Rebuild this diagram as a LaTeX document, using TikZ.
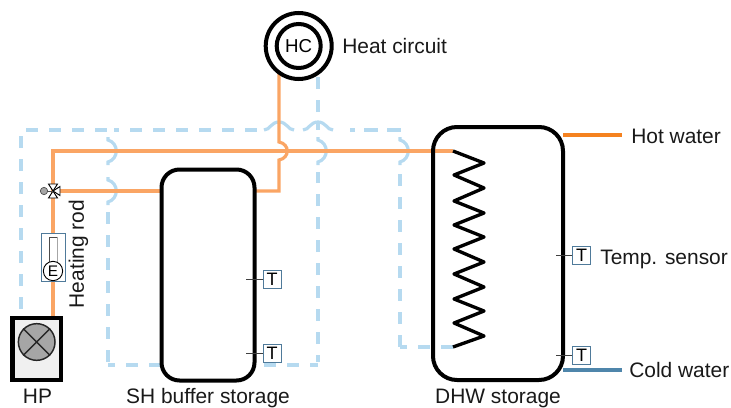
\documentclass[tikz,border=0pt]{standalone}
\usepackage{fontspec}
\setmainfont{Liberation Sans}
\usetikzlibrary{calc}
\definecolor{pipeorange}{HTML}{FAA564}
\definecolor{hotorange}{HTML}{F58220}
\definecolor{coldblue}{HTML}{4F86AB}
\definecolor{dashblue}{HTML}{B6DAF0}
\definecolor{sensoredge}{HTML}{4F7A9A}
\definecolor{hpfill}{HTML}{F0F0F0}
\definecolor{fanfill}{HTML}{A6A6A6}
\tikzset{
  warm/.style={draw=pipeorange,line width=2.4pt,line join=miter},
  ctrlsolid/.style={draw=dashblue,line width=2.4pt},
  ctrl/.style={ctrlsolid,dash pattern=on 9pt off 8.25pt},
  ctrlshift/.style={ctrlsolid,dash pattern=on 9pt off 8.25pt,dash phase=3.75pt},
  tank/.style={draw=black,line width=3pt,rounded corners=#1,inner sep=0pt},
  sensorbox/.style={draw=sensoredge,line width=0.7pt,fill=white,minimum size=13.5pt,inner sep=0pt,font=\fontsize{13.5pt}{14pt}\selectfont},
  tick/.style={draw=black!75,line width=0.7pt},
  lbl/.style={font=\fontsize{15.7pt}{17pt}\selectfont,inner sep=0pt,text=black!90},
  valvetri/.style={draw=black,fill=white,line width=0.7pt,line join=miter}
}
% solid hop of a vertical line, bulging right, centred on a named crossing
\newcommand{\vhop}[1]{\draw[ctrlsolid] ($(#1)+(0,-14)$) -- ($(#1)+(0,-11)$) .. controls +(11,3) and +(11,-3) .. ($(#1)+(0,11)$) -- ($(#1)+(0,14)$);}
% solid hop of a horizontal line, rising, centred on a named crossing
\newcommand{\hhop}[1]{\draw[ctrlsolid] ($(#1)+(-15,0)$) .. controls +(6,0) and +(-8,0) .. ($(#1)+(0,-8)$) .. controls +(8,0) and +(-6,0) .. ($(#1)+(15,0)$);}
\begin{document}
\begin{tikzpicture}[x=0.75pt,y=-0.75pt]
\useasboundingbox (0,0) rectangle (731,407);
% crossings and corners
\coordinate (valve) at (53,191);
\coordinate (rodtop) at (53,151);
\coordinate (coilin) at (453,151);
\coordinate (coilout) at (453,347);
\coordinate (j108a) at (108,151);
\coordinate (j108b) at (108,191);
\coordinate (j318) at (318,151);
\coordinate (j400) at (400,151);
\coordinate (j279) at (279,151);
\coordinate (t279) at (279,130);
\coordinate (t318) at (318,130);
\coordinate (hptopc) at (53,318);
\coordinate (shout) at (254,191);
\coordinate (hcfoot) at (279,72);
\coordinate (hotA) at (563,135);
\coordinate (hotB) at (622,135);
\coordinate (coldA) at (563,370);
\coordinate (coldB) at (622,370);
% outer control line
\coordinate (a1) at (21,309);
\coordinate (a2) at (21,130);
\coordinate (a3) at (107,130);
\coordinate (a4) at (114,130);
\coordinate (a5) at (119,130);
\coordinate (a6) at (130,130);
\coordinate (a7) at (258,130);
\coordinate (a8) at (350,130);
\coordinate (a9) at (355,130);
\coordinate (a10) at (364,130);
\coordinate (a11) at (378,130);
\coordinate (a12) at (387,130);
\coordinate (a13) at (401,130);
\coordinate (a14) at (400,174);
\coordinate (a15) at (400,347);
\draw[ctrl] (a1) -- (a2) -- (a3);
\draw[ctrlsolid] (a4) -- (a5);
\draw[ctrl] (a6) -- (a7);
\hhop{t279}
\hhop{t318}
\draw[ctrlsolid] (a8) -- (a9) (a10) -- (a11) (a12) -- (a13);
\vhop{j400}
\draw[ctrl] (a14) -- (a15);
\draw[ctrlshift] (a15) -- (coilout);
% inner control line
\coordinate (b1) at (108,212);
\coordinate (b2) at (108,362);
\coordinate (b3) at (108,365);
\coordinate (b4) at (318,365);
\coordinate (b5) at (318,362);
\coordinate (b6) at (318,172);
\coordinate (b7) at (318,122);
\coordinate (b8) at (318,130);
\coordinate (b9) at (318,112);
\coordinate (b10) at (318,77);
\vhop{j108a}
\vhop{j108b}
\draw[ctrl] (b1) -- (b2);
\draw[ctrlshift] (b3) -- (b4);
\draw[ctrlshift] (b5) -- (b6);
\vhop{j318}
\draw[ctrlsolid] (b7) -- (b8);
\draw[ctrl] (b9) -- (b10);
% warm pipes
\draw[warm] (hptopc) -- (rodtop) -- (coilin);
\draw[warm] (valve) -- (208,191);
\draw[warm] (shout) -| ($(j279)+(0,9)$) .. controls +(11,-2) and +(11,2) .. ($(j279)+(0,-9)$) -- (hcfoot);
\draw[draw=hotorange,line width=2.4pt] (hotA) -- (hotB);
\draw[draw=coldblue,line width=2.4pt] (coldA) -- (coldB);
% storage tanks
\node[tank=13.5pt,fill=white,minimum width=69.75pt,minimum height=158.25pt] (shtank) at (208,275) {};
\node[tank=18pt,minimum width=97.5pt,minimum height=189.75pt] (dhwtank) at (498,253.5) {};
% coil
\draw[black,line width=2.5pt,line join=round] (coilin) -- (484,163) -- (454,175) -- (484,188) -- (454,201) -- (484,213) -- (454,225) -- (484,237) -- (454,249) -- (484,262) -- (454,274) -- (484,287) -- (454,299) -- (484,311) -- (454,323) -- (484,336) -- (coilout);
% heat pump
\node[draw=black,line width=3.6pt,fill=hpfill,minimum width=36.4pt,minimum height=46.5pt,inner sep=0pt] (hp) at (36.7,349) {};
\node[circle,draw=black!85,line width=1.1pt,fill=fanfill,minimum size=27.5pt,inner sep=0pt] (fan) at (36.7,342) {};
\draw[black!85,line width=1.1pt] (fan.north west) -- (fan.south east) (fan.north east) -- (fan.south west);
\node[lbl,anchor=base] (hplabel) at (37.5,403) {HP};
% heating circuit
\node[circle,draw=black,line width=3pt,fill=white,minimum size=49.5pt,inner sep=0pt] (hcouter) at (298.7,46) {};
\node[circle,draw=black,line width=3pt,minimum size=33pt,inner sep=0pt,font=\fontsize{14pt}{15pt}\selectfont] (hc) at (298.7,46) {HC};
\node[lbl,anchor=base west] (hclabel) at (342,53) {Heat circuit};
% heating rod
\node[draw=sensoredge,line width=0.7pt,fill=white,minimum width=18pt,minimum height=36pt,inner sep=0pt] (rodbox) at (53,257) {};
\node[draw=black!70,line width=0.7pt,minimum width=6pt,minimum height=19pt,inner sep=0pt] (rod) at (53,250) {};
\draw[fanfill,line width=1pt] (rod.north east) -- (rod.south east);
\node[circle,draw=black,line width=0.7pt,fill=white,minimum size=14.5pt,inner sep=0pt,font=\fontsize{11.5pt}{12pt}\selectfont] (rode) at (53,271) {E};
\node[lbl,rotate=90,anchor=center] (rodlabel) at (78.5,254) {Heating rod};
% mixing valve
\draw[valvetri] (valve) -- ++(-4.5,-7) -- ++(9,0) -- cycle;
\draw[valvetri] (valve) -- ++(-4.5,7) -- ++(9,0) -- cycle;
\draw[valvetri] (valve) -- ++(7,-4.5) -- ++(0,9) -- cycle;
\draw[black!70,line width=0.5pt] (valve) -- ++(-9,0);
\node[circle,draw=black!70,line width=0.5pt,fill=fanfill,minimum size=5.5pt,inner sep=0pt] (actuator) at (44,191) {};
% sensors
\node[sensorbox] (s1) at (272,279) {T};
\node[sensorbox] (s2) at (272,353) {T};
\node[sensorbox] (s3) at (581.5,255) {T};
\node[sensorbox] (s4) at (581.5,355) {T};
\coordinate (s1t) at (246,279);
\coordinate (s2t) at (246,353);
\coordinate (s3t) at (556,255);
\coordinate (s4t) at (556,355);
\draw[tick] (s1t) -- (s1.west);
\draw[tick] (s2t) -- (s2.west);
\draw[tick] (s3t) -- (s3.west);
\draw[tick] (s4t) -- (s4.west);
% labels
\node[lbl,anchor=base] (shlabel) at (208,403) {SH buffer storage};
\node[lbl,anchor=base] (dhwlabel) at (498,403) {DHW storage};
\node[lbl,anchor=base west] (hotlabel) at (631,143.5) {Hot water};
\node[lbl,anchor=base west] (templabel) at (600,264) {Temp. sensor};
\node[lbl,anchor=base west] (coldlabel) at (629,377) {Cold water};
\end{tikzpicture}
\end{document}
